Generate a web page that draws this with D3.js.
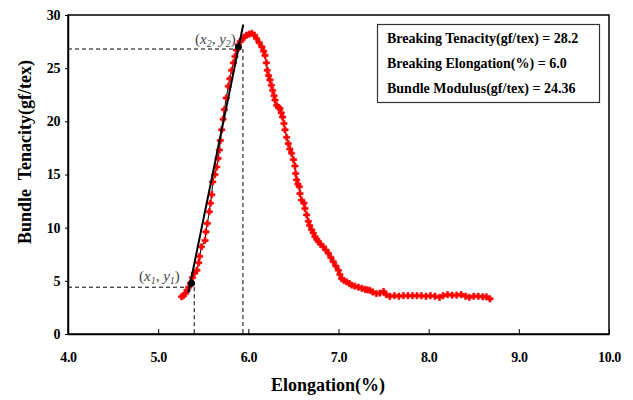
<!DOCTYPE html>
<html>
<head>
<meta charset="utf-8">
<script src="https://cdn.jsdelivr.net/npm/d3@7"></script>
<style>
    body { margin: 0; background: #fff; }
    text { font-family: "Liberation Serif", "DejaVu Serif", serif; }
    .tick text { font-size: 14px; font-weight: bold; letter-spacing: -0.4px; }
</style>
</head>
<body>
<svg id="chart"></svg>
<script>
// bundle strength test curve
var elongation = [5.26, 5.28, 5.30, 5.32, 5.34, 5.36, 5.38, 5.40, 5.43, 5.45, 5.46, 5.48, 5.52, 5.53, 5.545, 5.567,
    5.58, 5.594, 5.605, 5.63, 5.649, 5.665, 5.678, 5.69, 5.705, 5.72, 5.734, 5.755, 5.778, 5.795, 5.815, 5.835,
    5.852, 5.87, 5.889, 5.91, 5.93, 5.95, 5.98, 6.01, 6.04, 6.07, 6.09, 6.12, 6.15, 6.17, 6.185, 6.20, 6.21,
    6.225, 6.24, 6.255, 6.27, 6.285, 6.296, 6.315, 6.335, 6.351, 6.365, 6.38, 6.395, 6.407, 6.425, 6.443, 6.46,
    6.48, 6.50, 6.517, 6.525, 6.536, 6.55, 6.565, 6.573, 6.59, 6.617, 6.628, 6.647, 6.665, 6.68, 6.702, 6.72,
    6.739, 6.76, 6.776, 6.80, 6.831, 6.86, 6.887, 6.915, 6.942, 6.97, 6.998, 7.015, 7.035, 7.06, 7.09, 7.12,
    7.146, 7.18, 7.22, 7.26, 7.294, 7.32, 7.35, 7.38, 7.42, 7.46, 7.50, 7.53, 7.57, 7.62, 7.67, 7.72, 7.77,
    7.82, 7.87, 7.92, 7.97, 8.02, 8.07, 8.12, 8.16, 8.21, 8.26, 8.31, 8.36, 8.41, 8.45, 8.50, 8.55, 8.60,
    8.64, 8.68];
var tenacity = [3.5, 3.6, 3.8, 4.1, 4.4, 4.8, 5.3, 5.7, 6.0, 6.7, 7.3, 8.2, 8.8, 9.6, 10.4, 11.5,
    12.3, 13.1, 14.3, 15.0, 15.7, 16.5, 17.3, 18.2, 19.2, 20.2, 21.1, 22.2, 23.3, 24.0, 24.8, 25.5,
    26.1, 26.7, 27.2, 27.5, 27.7, 27.9, 28.1, 28.2, 28.28, 28.1, 27.8, 27.4, 27.0, 26.6, 26.2, 25.5, 24.8,
    24.3, 23.9, 23.4, 22.9, 22.4, 22.0, 21.5, 21.3, 21.2, 20.8, 20.4, 19.8, 19.2, 18.5, 17.9, 17.4,
    17.0, 16.4, 15.8, 15.1, 14.5, 14.1, 13.85, 13.2, 12.6, 12.3, 11.8, 11.2, 10.6, 10.2, 9.8, 9.5,
    9.15, 8.9, 8.7, 8.45, 8.2, 7.9, 7.6, 7.2, 6.8, 6.4, 6.0, 5.6, 5.2, 5.05, 4.9, 4.75,
    4.6, 4.5, 4.4, 4.3, 4.2, 4.15, 4.1, 3.95, 3.8, 3.85, 4.0, 3.7, 3.55, 3.6, 3.55, 3.6, 3.6,
    3.6, 3.6, 3.6, 3.55, 3.6, 3.55, 3.45, 3.6, 3.7, 3.65, 3.65, 3.7, 3.55, 3.45, 3.55, 3.55, 3.5,
    3.5, 3.3];

var xTicks = [4, 5, 6, 7, 8, 9, 10];
var yTicks = [0, 5, 10, 15, 20, 25, 30];

// tangent line used for the modulus, and the two picked points
var tangentX = [5.335, 5.944];
var tangentY = [3.88, 29.1];
var pickX = [5.37, 5.89];
var pickY = [4.77, 27.0];
var guideX = [5.40, 5.94];
var guideY = [4.4, 26.8];
var pickNames = ["1", "2"];

var resultLines = [
    "Breaking Tenacity(gf/tex) = 28.2",
    "Breaking Elongation(%) = 6.0",
    "Bundle Modulus(gf/tex) = 24.36"
];

var config = {
    width: 633,
    height: 400,
    left: 68,
    top: 15,
    right: 609,
    bottom: 334
};

var svg = d3.select("#chart")
    .attr("width", config.width)
    .attr("height", config.height);

var x = d3.scaleLinear().domain([4, 10]).range([config.left, config.right]);
var y = d3.scaleLinear().domain([0, 30]).range([config.bottom, config.top]);

// frame
svg.append("rect")
    .attr("x", config.left)
    .attr("y", config.top)
    .attr("width", config.right - config.left)
    .attr("height", config.bottom - config.top)
    .attr("fill", "none")
    .attr("stroke", "#000")
    .attr("stroke-width", 1.5);

var xAxis = svg.append("g")
    .attr("transform", "translate(0," + config.bottom + ")")
    .call(d3.axisBottom(x).tickValues(xTicks).tickSizeInner(-5).tickSizeOuter(0).tickPadding(18)
        .tickFormat(d3.format(".1f")));
xAxis.select(".domain").attr("stroke-width", 1.5);

var yAxis = svg.append("g")
    .attr("transform", "translate(" + config.left + ",0)")
    .call(d3.axisLeft(y).tickValues(yTicks).tickSizeInner(3).tickSizeOuter(0).tickPadding(5));
yAxis.select(".domain").attr("stroke-width", 1.5);

svg.append("text")
    .attr("x", 328)
    .attr("y", 391)
    .attr("text-anchor", "middle")
    .attr("font-size", 18)
    .attr("font-weight", "bold")
    .text("Elongation(%)");

svg.append("text")
    .attr("transform", "translate(31,152) rotate(-90)")
    .attr("text-anchor", "middle")
    .attr("font-size", 18)
    .attr("font-weight", "bold")
    .attr("xml:space", "preserve")
    .style("white-space", "pre")
    .text("Bundle  Tenacity(gf/tex)");

// dashed guides to the picked points
guideX.forEach(function (gx, i) {
    svg.append("line")
        .attr("x1", x(4)).attr("y1", y(guideY[i]))
        .attr("x2", x(gx)).attr("y2", y(guideY[i]))
        .attr("stroke", "#000").attr("stroke-width", 1)
        .attr("stroke-dasharray", "4,3");
    svg.append("line")
        .attr("x1", x(gx)).attr("y1", y(guideY[i]))
        .attr("x2", x(gx)).attr("y2", y(0))
        .attr("stroke", "#000").attr("stroke-width", 1)
        .attr("stroke-dasharray", "4,3");
});

var points = elongation.map(function (e, i) {
    return [e, tenacity[i]];
});

svg.append("path")
    .datum(points)
    .attr("fill", "none")
    .attr("stroke", "#000")
    .attr("stroke-width", 1)
    .attr("d", d3.line()
        .x(function (d) { return x(d[0]); })
        .y(function (d) { return y(d[1]); }));

svg.append("g")
    .selectAll("path")
    .data(points)
    .enter()
    .append("path")
    .attr("transform", function (d) {
        return "translate(" + x(d[0]) + "," + y(d[1]) + ")";
    })
    .attr("d", d3.symbol().type(d3.symbolCross).size(22))
    .attr("fill", "#ff0000")
    .attr("stroke", "#ff0000")
    .attr("stroke-width", 0.6);

// tangent line
svg.append("line")
    .attr("x1", x(tangentX[0])).attr("y1", y(tangentY[0]))
    .attr("x2", x(tangentX[1])).attr("y2", y(tangentY[1]))
    .attr("stroke", "#000")
    .attr("stroke-width", 2);

svg.append("g")
    .selectAll("circle")
    .data(pickX)
    .enter()
    .append("circle")
    .attr("cx", function (d) { return x(d); })
    .attr("cy", function (d, i) { return y(pickY[i]); })
    .attr("r", 3.5)
    .attr("fill", "#000");

// (x1, y1) and (x2, y2) labels
var labelPos = [[139, 281], [195, 44]];
pickNames.forEach(function (n, i) {
    var t = svg.append("text")
        .attr("x", labelPos[i][0])
        .attr("y", labelPos[i][1])
        .attr("font-size", 15)
        .attr("font-style", "italic")
        .attr("fill", "#444");
    t.append("tspan").attr("font-style", "normal").text("(");
    t.append("tspan").text("x");
    t.append("tspan").attr("font-size", 10).attr("dy", 3).text(n);
    t.append("tspan").attr("dy", -3).text(", y");
    t.append("tspan").attr("font-size", 10).attr("dy", 3).text(n);
    t.append("tspan").attr("dy", -3).attr("font-style", "normal").text(")");
});

// result box
svg.append("rect")
    .attr("x", 377.5)
    .attr("y", 24.5)
    .attr("width", 222)
    .attr("height", 78)
    .attr("fill", "#fff")
    .attr("stroke", "#333")
    .attr("stroke-width", 1.2);

svg.append("g")
    .selectAll("text")
    .data(resultLines)
    .enter()
    .append("text")
    .attr("x", 387)
    .attr("y", function (d, i) { return 43 + i * 25; })
    .attr("font-size", 14)
    .attr("font-weight", "bold")
    .text(function (d) { return d; });
</script>
</body>
</html>
